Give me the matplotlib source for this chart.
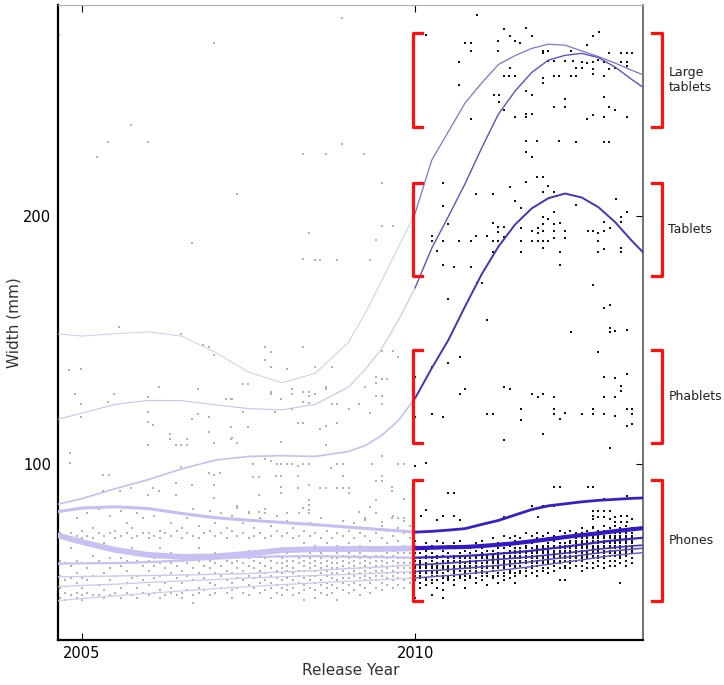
import numpy as np
import matplotlib.pyplot as plt

# --- data (year, width in mm) ---

# pre-2010 dense band, one column per month
pre_cols = [2004.67, 2004.75, 2004.83, 2004.92, 2005.00, 2005.08, 2005.17, 2005.25, 2005.33, 2005.42,
            2005.50, 2005.58, 2005.67, 2005.75, 2005.83, 2005.92, 2006.00, 2006.08, 2006.17, 2006.25,
            2006.33, 2006.42, 2006.50, 2006.58, 2006.67, 2006.75, 2006.83, 2006.92, 2007.00, 2007.08,
            2007.17, 2007.25, 2007.33, 2007.42, 2007.50, 2007.58, 2007.67, 2007.75, 2007.83, 2007.92,
            2008.00, 2008.08, 2008.17, 2008.25, 2008.33, 2008.42, 2008.50, 2008.58, 2008.67, 2008.75,
            2008.83, 2008.92, 2009.00, 2009.08, 2009.17, 2009.25, 2009.33, 2009.42, 2009.50, 2009.58,
            2009.67, 2009.75, 2009.83, 2009.92]
pre_vals = [
    [72, 61, 55, 50, 46], [81, 71, 60, 53, 48, 45], [72, 66, 59, 54, 47], [78, 71, 61, 56, 52, 48, 46],
    [73, 70, 60, 54, 50, 47, 45], [80, 71, 58, 53, 48], [74, 70, 63, 60, 55, 47], [82, 72, 61, 51, 47],
    [71, 68, 60, 56, 49, 46], [79, 72, 62, 58, 53, 47], [73, 70, 60, 55, 48], [81, 71, 62, 59, 50, 46],
    [76, 72, 61, 57, 52, 48], [74, 70, 66, 60, 54, 47], [80, 71, 61, 55, 50, 46], [78, 72, 63, 59, 53, 48],
    [82, 72, 70, 61, 57, 51, 47], [79, 71, 62, 59, 54, 48], [73, 70, 66, 60, 55, 49, 46], [81, 72, 61, 58, 52, 47],
    [76, 71, 64, 60, 56, 50, 48], [80, 73, 62, 59, 54, 47], [74, 70, 61, 57, 52, 48, 46], [78, 72, 63, 60, 55, 49],
    [82, 71, 62, 58, 53, 47, 44], [75, 70, 66, 61, 56, 50, 48], [79, 72, 63, 59, 54, 49], [81, 73, 61, 58, 52, 47],
    [76, 71, 64, 60, 56, 51, 48], [80, 72, 62, 59, 55, 50], [74, 70, 63, 61, 57, 53, 48], [79, 73, 62, 60, 56, 52, 49, 46],
    [83, 71, 64, 61, 58, 54, 50], [76, 72, 63, 60, 57, 53, 48], [80, 70, 65, 62, 59, 55, 51, 47], [74, 71, 64, 61, 58, 54, 50],
    [78, 72, 63, 60, 57, 55, 52, 48], [82, 70, 65, 62, 59, 56, 53, 49], [75, 71, 64, 61, 58, 55, 52, 50, 46],
    [79, 73, 63, 60, 57, 54, 51, 48], [71, 66, 62, 60, 58, 56, 53, 50, 47], [77, 72, 64, 61, 59, 57, 54, 51, 49],
    [74, 70, 63, 61, 58, 56, 53, 50, 47], [80, 71, 65, 62, 60, 57, 55, 52, 48], [73, 68, 63, 61, 59, 57, 54, 51, 49, 45],
    [76, 71, 64, 62, 60, 58, 55, 53, 50], [72, 67, 63, 61, 59, 57, 55, 52, 49, 46], [78, 70, 64, 62, 60, 58, 56, 53, 51, 48],
    [73, 68, 63, 61, 59, 57, 55, 52, 50, 47], [75, 70, 65, 62, 60, 58, 56, 54, 51, 48], [72, 67, 64, 62, 60, 58, 56, 53, 50, 45],
    [77, 71, 65, 63, 61, 59, 57, 54, 52, 49], [73, 68, 64, 62, 60, 58, 56, 54, 51, 48], [76, 70, 65, 63, 61, 59, 57, 55, 52, 49],
    [72, 67, 64, 62, 60, 58, 56, 54, 51, 47], [78, 71, 66, 63, 61, 59, 57, 55, 53, 50], [74, 69, 65, 62, 60, 58, 56, 54, 52, 48],
    [80, 72, 66, 63, 61, 59, 57, 55, 53, 50], [75, 70, 65, 63, 61, 59, 57, 55, 52, 49], [73, 68, 66, 64, 62, 60, 58, 56, 54, 51],
    [79, 71, 65, 63, 61, 59, 57, 55, 53, 50], [74, 69, 66, 64, 62, 60, 58, 56, 54, 51], [77, 72, 67, 64, 62, 60, 58, 56, 53, 50],
    [75, 70, 66, 64, 62, 60, 58, 56, 54, 52]]

# pre-2010 scattered devices above the band
pre_sparse = [
    (2004.65, 273), (2005.74, 236.7), (2005.39, 229.8), (2005.99, 229.8), (2005.23, 223.8), (2006.98, 269.8),
    (2007.33, 208.9), (2006.65, 189.1), (2008.9, 279.8), (2008.9, 229), (2008.32, 225), (2008.66, 225),
    (2009.23, 225), (2009.5, 213.3), (2009.5, 196), (2009.67, 196), (2008.41, 193), (2009.41, 190.3),
    (2008.32, 182.7), (2008.5, 182), (2008.57, 182), (2008.83, 182), (2009.32, 182),
    (2005.56, 155.2), (2006.49, 152.4), (2006.82, 148), (2006.9, 147.2), (2006.98, 144), (2004.8, 138), (2004.98, 138.3),
    (2004.9, 128), (2005.48, 128), (2006.16, 131), (2006.74, 130), (2004.98, 124), (2005.39, 125), (2005.99, 127),
    (2007.16, 126), (2007.24, 126), (2004.98, 119), (2005.99, 121), (2005.99, 117), (2006.07, 115.7), (2005.99, 107.7),
    (2006.65, 118.1), (2006.74, 120.2), (2006.9, 119), (2006.9, 113), (2007.24, 115), (2007.24, 110), (2006.98, 108.5),
    (2006.32, 112), (2006.32, 110), (2006.41, 107.7), (2006.49, 107.7), (2006.58, 107.7), (2006.58, 110),
    (2007.75, 147.2), (2007.83, 145.2), (2008.32, 147.2), (2007.75, 142), (2007.83, 139), (2008.08, 138.3),
    (2008.5, 139), (2008.75, 139), (2009.5, 145.6), (2009.67, 145.6), (2009.74, 143), (2007.41, 132.3), (2007.49, 132.3),
    (2007.83, 129), (2007.83, 128.2), (2008.15, 130.2), (2008.15, 128.2), (2008.32, 129), (2008.41, 129),
    (2008.41, 127.4), (2008.5, 128.2), (2008.66, 131), (2008.66, 130.2), (2007.99, 126.2), (2008.32, 125), (2008.41, 124.6),
    (2009.25, 131), (2009.41, 135), (2009.41, 132.7), (2009.5, 134.3), (2009.58, 134.3), (2009.41, 127.4), (2009.5, 127.4),
    (2008.75, 124.2), (2008.83, 124.2), (2009.0, 122), (2009.16, 124.2), (2009.32, 120.6), (2009.5, 124.2),
    (2007.25, 126), (2007.42, 121), (2007.9, 121), (2008.15, 122), (2008.24, 116.5), (2008.32, 116.5),
    (2008.57, 114), (2008.66, 115.3), (2008.83, 116.5), (2007.49, 115), (2007.99, 109), (2008.66, 107.7),
    (2007.25, 110.5), (2007.33, 108.5), (2004.82, 104.4), (2004.82, 100.4), (2005.32, 95.6), (2005.4, 95.6),
    (2006.49, 98.8), (2006.9, 96.4), (2006.98, 95.6), (2007.07, 96.4), (2006.98, 91.5),
    (2005.32, 89.2), (2005.57, 89.2), (2005.74, 90.2), (2005.99, 87.5), (2006.07, 90.2), (2006.16, 89.2),
    (2006.41, 92.2), (2006.65, 91.5), (2006.41, 87.5), (2006.98, 86.2),
    (2007.57, 100), (2007.75, 102), (2007.83, 101), (2007.92, 100), (2007.99, 100), (2008.07, 100), (2008.15, 100),
    (2008.24, 99), (2008.32, 100), (2008.41, 100), (2008.82, 100), (2008.91, 100), (2008.74, 98.3), (2009.35, 100),
    (2009.5, 103), (2009.75, 100), (2009.83, 100), (2007.57, 94.9), (2007.66, 94.9), (2007.91, 95.2), (2007.99, 95.2),
    (2008.24, 95.2), (2008.91, 95.2), (2009.5, 95.2), (2009.5, 92.9), (2007.99, 90.6), (2007.99, 88.2), (2008.24, 90.2),
    (2008.41, 91.5), (2008.57, 90.2), (2008.66, 90.2), (2008.82, 90.2), (2008.91, 90.2), (2009.0, 90.2), (2009.0, 88.2),
    (2009.66, 90.6), (2009.66, 89.2), (2009.41, 92.9), (2007.66, 87.5), (2008.41, 85.5), (2008.41, 83.5), (2008.41, 81.5),
    (2008.41, 80.1), (2008.32, 82.1), (2008.07, 80.1), (2007.75, 80.1), (2007.66, 80.8), (2007.5, 80.8), (2007.32, 82.1),
    (2009.32, 82.5), (2009.41, 85.5), (2009.16, 80.8), (2009.25, 77.4), (2009.5, 76.7), (2009.66, 78.1), (2009.75, 78.1),
    (2009.83, 85.8), (2009.83, 78.1)]

# post-2010 phones, one column per month
phone_cols = [2010.00, 2010.08, 2010.17, 2010.25, 2010.33, 2010.42, 2010.50, 2010.58, 2010.67, 2010.75,
              2010.83, 2010.92, 2011.00, 2011.08, 2011.17, 2011.25, 2011.33, 2011.42, 2011.50, 2011.58,
              2011.67, 2011.75, 2011.83, 2011.92, 2012.00, 2012.08, 2012.17, 2012.25, 2012.33, 2012.42,
              2012.50, 2012.58, 2012.67, 2012.75, 2012.83, 2012.92, 2013.00, 2013.08, 2013.17, 2013.25]
phone_vals = [
    [69, 67, 64, 62, 61, 59, 58, 57, 56, 55, 53, 46], [66, 64, 62, 61, 60, 59, 58, 57, 56, 55, 54, 52, 50],
    [68, 65, 63, 62, 60, 59, 58, 57, 56, 54, 53, 51], [67, 64, 62, 61, 59, 58, 57, 56, 55, 53, 52, 47],
    [69, 66, 63, 62, 60, 59, 58, 57, 56, 55, 53, 50], [68, 65, 63, 61, 60, 59, 58, 56, 55, 54, 52, 49, 46],
    [67, 64, 62, 61, 60, 59, 58, 57, 55, 54, 53], [68, 66, 63, 62, 61, 59, 58, 57, 56, 55, 53, 51],
    [69, 66, 64, 62, 61, 60, 59, 58, 57, 55, 54], [67, 65, 63, 62, 60, 59, 58, 57, 56, 55, 53, 50],
    [66, 64, 62, 61, 60, 59, 58, 57, 55, 54], [68, 65, 63, 62, 61, 60, 59, 58, 57, 56, 54, 52],
    [69, 66, 64, 63, 62, 60, 59, 58, 57, 56, 55, 53], [67, 65, 63, 62, 61, 60, 59, 58, 56, 55, 51],
    [70, 67, 65, 63, 62, 61, 60, 59, 58, 57, 55, 54], [68, 66, 64, 63, 62, 61, 60, 59, 58, 56, 55, 52],
    [71, 68, 66, 64, 63, 62, 61, 60, 59, 58, 56, 55, 53], [70, 67, 65, 64, 63, 62, 61, 60, 59, 57, 56, 54],
    [71, 69, 66, 65, 64, 63, 62, 61, 60, 59, 58, 56, 55, 52], [70, 68, 66, 65, 64, 63, 62, 61, 60, 59, 57, 56],
    [72, 69, 67, 66, 65, 64, 63, 62, 61, 60, 58, 57, 55], [71, 68, 66, 65, 64, 63, 62, 61, 60, 59, 58, 56],
    [72, 70, 67, 66, 65, 64, 63, 62, 61, 60, 59, 57, 55], [71, 69, 67, 66, 65, 64, 63, 62, 61, 60, 58, 57],
    [72, 70, 68, 67, 66, 65, 64, 63, 62, 61, 60, 58, 56], [71, 69, 67, 66, 65, 64, 63, 62, 61, 60, 59, 57],
    [73, 70, 68, 67, 66, 65, 64, 63, 62, 61, 60, 58, 53], [72, 70, 68, 67, 66, 65, 64, 63, 62, 61, 59, 58, 53],
    [73, 71, 69, 68, 67, 66, 65, 64, 63, 62, 61, 60, 58], [72, 70, 69, 68, 67, 66, 65, 64, 63, 62, 61, 59],
    [74, 72, 70, 69, 68, 67, 66, 65, 64, 63, 62, 61, 59, 57], [73, 71, 70, 69, 68, 67, 66, 65, 64, 63, 62, 60, 58],
    [74, 72, 71, 70, 69, 68, 67, 66, 65, 64, 63, 62, 60, 58], [73, 71, 70, 69, 68, 67, 66, 65, 64, 63, 62, 61, 59],
    [75, 73, 71, 70, 69, 68, 67, 66, 65, 64, 63, 62, 60, 58], [74, 72, 71, 70, 69, 68, 67, 66, 65, 64, 63, 61, 59],
    [75, 73, 72, 71, 70, 69, 68, 67, 66, 65, 64, 63, 61, 59], [74, 72, 71, 70, 69, 68, 67, 66, 65, 64, 63, 62, 60, 52],
    [75, 73, 72, 71, 70, 69, 68, 67, 66, 65, 64, 63, 61, 59], [74, 72, 71, 70, 69, 68, 67, 66, 65, 64, 62, 60]]

# post-2010 larger devices
post_sparse = [
    # large tablets
    (2010.93, 280.8), (2010.17, 273), (2011.34, 275.4), (2011.43, 272.6), (2011.67, 275.8), (2011.76, 272.6),
    (2011.5, 270.6), (2011.58, 269.8), (2010.75, 269.8), (2010.84, 269.8), (2010.84, 266.5), (2011.25, 270.6),
    (2011.25, 266.5), (2010.66, 262), (2010.66, 252.8), (2010.84, 239), (2011.19, 248.8), (2011.26, 248.8),
    (2011.26, 246), (2011.34, 242.7), (2011.5, 240), (2011.67, 241), (2011.67, 240), (2011.76, 241),
    (2011.43, 259.7), (2011.41, 256.5), (2011.34, 256.5), (2011.5, 256.5), (2011.67, 250.4), (2011.76, 248.8),
    (2011.92, 266.5), (2012.0, 266.5), (2011.92, 265.7), (2011.92, 255.6), (2011.92, 253.6),
    (2012.0, 262.5), (2012.09, 262.5), (2012.25, 262.5), (2012.37, 262.5), (2012.09, 256.5), (2012.16, 256.5),
    (2012.34, 256.5), (2012.42, 256.5), (2012.25, 247), (2012.09, 244), (2012.25, 244), (2012.34, 266.5),
    (2012.58, 269), (2012.67, 272.6), (2012.76, 274), (2012.5, 262), (2012.58, 261.7), (2012.67, 262),
    (2012.75, 263), (2012.84, 262), (2012.42, 259.7), (2012.5, 259.7), (2012.67, 259), (2012.67, 257),
    (2012.84, 256.5), (2012.91, 259), (2013.0, 259.7), (2013.09, 262), (2013.18, 262), (2013.18, 260.5),
    (2013.26, 265.7), (2013.18, 265.7), (2013.09, 265.7), (2012.91, 265.7), (2012.84, 248), (2012.91, 244),
    (2013.0, 242.7), (2013.18, 240), (2012.67, 240.7), (2012.58, 239), (2012.84, 240),
    (2011.67, 230.2), (2011.83, 230.2), (2012.16, 230.2), (2012.42, 229.8), (2012.84, 229.8), (2012.91, 229.8),
    (2011.67, 225.8), (2011.76, 223.8),
    # tablets
    (2010.42, 213.4), (2010.42, 204), (2010.5, 196.8), (2010.25, 192), (2010.25, 190), (2010.42, 190), (2010.33, 186),
    (2010.66, 190), (2010.84, 190), (2010.92, 192), (2011.08, 192), (2010.92, 208.9), (2011.17, 208.9),
    (2010.42, 180), (2010.58, 179.4), (2010.84, 179.4), (2010.93, 173), (2011.0, 173), (2010.5, 166.5), (2011.08, 158),
    (2011.17, 197.2), (2011.25, 195.6), (2011.25, 193.5), (2011.33, 195.6), (2011.33, 191.5), (2011.17, 190),
    (2011.25, 190), (2011.17, 185.5), (2011.42, 211.8), (2011.5, 205.8), (2011.59, 203.2), (2011.67, 213.8),
    (2011.83, 215.8), (2011.92, 215.8), (2012.0, 212.2), (2011.92, 209.8), (2012.09, 209.8),
    (2011.59, 195), (2011.59, 190), (2011.59, 185.6), (2011.75, 193.7), (2011.75, 190), (2011.84, 195),
    (2011.84, 193), (2011.92, 193.7), (2011.92, 190), (2011.92, 187), (2012.0, 190), (2012.09, 201.7),
    (2012.09, 193.7), (2012.09, 191), (2012.17, 197), (2012.17, 185.6), (2012.25, 193.7), (2012.25, 191),
    (2011.84, 190), (2011.92, 199.7), (2011.92, 196.8), (2012.0, 198.7), (2012.09, 196.8), (2012.17, 180),
    (2012.42, 204.4), (2012.59, 193.7), (2012.67, 193.7), (2012.75, 193), (2012.75, 190), (2012.84, 193.7),
    (2012.84, 197.7), (2012.92, 195), (2013.01, 206.9), (2013.09, 199.7), (2013.09, 197.7), (2013.18, 201.7),
    (2012.75, 185.6), (2012.84, 186.6), (2013.09, 187), (2013.09, 185.6), (2012.67, 172), (2012.84, 163),
    (2012.92, 164), (2012.92, 154.7), (2012.92, 153), (2013.0, 153.6), (2013.18, 154), (2012.34, 153),
    # phablets
    (2010.0, 135.2), (2010.25, 139), (2010.5, 140.8), (2010.67, 143), (2010.67, 128.2), (2010.75, 130),
    (2010.0, 119), (2010.25, 120), (2010.42, 119), (2011.08, 120), (2011.17, 120), (2011.34, 131), (2011.42, 130),
    (2011.34, 109.7), (2011.59, 122), (2011.59, 117.5), (2011.75, 128.2), (2011.84, 127), (2011.92, 128.2),
    (2011.92, 112), (2012.09, 127), (2012.09, 122), (2012.09, 120), (2012.17, 118), (2012.25, 120.7),
    (2012.5, 120), (2012.67, 122), (2012.67, 120), (2012.75, 145), (2012.84, 135), (2012.84, 127), (2012.84, 120),
    (2012.93, 106.3), (2013.0, 134.6), (2013.0, 127), (2013.0, 119.4), (2013.09, 131.6), (2013.09, 129.2),
    (2013.18, 136.3), (2013.18, 122), (2013.18, 115.3), (2013.26, 122), (2013.26, 120.3), (2013.26, 116),
    (2010.0, 99.3), (2010.17, 100.3),
    # big phones
    (2010.5, 88.4), (2010.59, 88.4), (2010.17, 81.5), (2010.09, 79), (2010.42, 79), (2010.59, 79), (2010.33, 77.4),
    (2010.67, 77.4), (2011.34, 78.6), (2011.76, 83), (2011.92, 83), (2012.0, 83), (2012.09, 83), (2011.84, 78.6),
    (2012.09, 90.6), (2012.17, 90.6), (2012.59, 90.6), (2012.67, 90.6), (2012.84, 85.8), (2013.18, 87.1),
    (2012.67, 81.2), (2012.75, 81.2), (2012.84, 81.2), (2012.92, 81.2), (2012.67, 79), (2012.67, 77.7),
    (2012.67, 74.7), (2012.75, 78.5), (2012.84, 78.5), (2012.92, 77.7), (2013.0, 78.5), (2013.09, 79),
    (2013.18, 79), (2013.0, 76.7), (2013.09, 76.7), (2013.18, 76.7), (2013.25, 77.7)]

# smoothed trend lines, values at the curve_years
curve_years = [2004.6, 2005.0, 2005.5, 2006.0, 2006.5, 2007.0, 2007.5, 2008.0, 2008.5, 2009.0,
               2009.25, 2009.5, 2009.75, 2010.0, 2010.25, 2010.5, 2010.75, 2011.0, 2011.25, 2011.5,
               2011.75, 2012.0, 2012.25, 2012.5, 2012.75, 2013.0, 2013.25, 2013.45]
trend_large1 = [152.5, 151.5, 152.5, 153.2, 151.5, 145, 137, 132.7, 136.5, 149,
                160.8, 174, 187.5, 201, 222.5, 234, 245.5, 253.6, 261, 264.6,
                267.5, 269.2, 268.8, 266.5, 264.2, 261.6, 258.7, 256.5]
trend_large2 = [117.7, 120.5, 124, 125.6, 125.5, 123.8, 122.3, 121.8, 124, 131,
                138, 146.6, 158, 171, 187, 199.8, 213, 227.4, 241, 250.3,
                257.8, 262.8, 264.7, 265.5, 263.8, 260, 255, 251.3]
trend_tablet = [83.5, 86, 90, 93.7, 98, 101.5, 103, 103.3, 103, 105,
                107.4, 111.5, 117.5, 126.5, 138.6, 150, 163.5, 176.5, 187.6, 196.5,
                203, 207.1, 209, 207.4, 203.5, 197.5, 190, 184.5]
trend_phab = [80.6, 82.2, 82.7, 82, 80, 78.3, 77.3, 76.4, 75.5, 74.5,
              74, 73.5, 73, 72.5, 72.8, 73.3, 73.9, 75.6, 77.2, 79.4,
              81.6, 83.1, 83.9, 84.7, 85.3, 85.7, 86.1, 86.3]
trend_phone = [71.5, 68.5, 65.3, 63.3, 62.5, 62.7, 63.8, 65.2, 65.6, 65.7,
               65.7, 65.7, 65.8, 66, 66.2, 66.4, 66.5, 66.9, 67.4, 68,
               68.8, 69.6, 70.5, 71.3, 72, 72.9, 73.6, 74.2]
trend_f = [59.8, 59.9, 60, 60.4, 61, 61.8, 62.4, 62.7, 62.8, 62.6,
           62.5, 62.4, 62.3, 62.2, 62.4, 62.6, 62.9, 63.3, 63.8, 64.3,
           65, 65.8, 66.6, 67.5, 68.4, 69.2, 69.8, 70.3]
trend_g = [54.4, 54.6, 54.8, 55, 55.2, 55.5, 55.8, 56.4, 57, 57.8,
           58.1, 58.5, 58.9, 59.3, 59.6, 60, 60.5, 61, 61.5, 62,
           62.6, 63.3, 64, 64.8, 65.6, 66.3, 66.9, 67.3]
trend_h = [50.4, 51, 51.5, 52.2, 52.8, 53.4, 54, 54.5, 55, 55.5,
           55.7, 56, 56.3, 56.6, 57, 57.4, 57.9, 58.5, 59.1, 59.8,
           60.6, 61.5, 62.3, 63.2, 64.1, 65, 65.6, 66.1]
trend_i = [44.8, 45.7, 46.8, 47.8, 48.8, 49.7, 50.5, 51.3, 52, 52.7,
           53, 53.3, 53.6, 54, 54.5, 55, 55.6, 56.3, 57, 57.8,
           58.6, 59.5, 60.4, 61.3, 62.3, 63.2, 63.8, 64.3]

# category brackets (low, high) in mm
bracket_names = ["Large\ntablets", "Tablets", "Phablets", "Phones"]
bracket_lo = [236.0, 175.8, 108.3, 44.9]
bracket_hi = [273.7, 213.4, 146.0, 93.5]


def flatten(cols, vals):
    xs, ys = [], []
    for c, v in zip(cols, vals):
        xs += [c] * len(v)
        ys += v
    return np.array(xs), np.array(ys)


fig = plt.figure(figsize=(7.24, 6.85), dpi=100)
ax = fig.add_axes([58 / 724, 45 / 685, 585 / 724, 635 / 685])

# points
px, py = flatten(pre_cols, pre_vals)
sx, sy = np.array(pre_sparse).T
ax.scatter(np.r_[px, sx], np.r_[py, sy], s=2.6, marker='s', c='#b2b2b2', linewidths=0, zorder=2)

qx, qy = flatten(phone_cols, phone_vals)
tx, ty = np.array(post_sparse).T
ax.scatter(np.r_[qx, tx], np.r_[qy, ty], s=3.8, marker='s', c='#111111', linewidths=0, zorder=2)

# trend lines: light before 2010, dark after
yrs = np.array(curve_years)
pre = yrs <= 2010
post = yrs >= 2010
styles = [  # values, lw before, lw after, colour before, colour after
    (trend_large1, 0.7, 0.9, '#cfcaf0', '#7f74cf'),
    (trend_large2, 0.8, 1.0, '#c9c3ef', '#5f50c4'),
    (trend_tablet, 1.2, 1.4, '#c6bff0', '#4632b8'),
    (trend_phab, 2.2, 2.0, '#c6bef3', '#3a20c2'),
    (trend_phone, 4.2, 3.0, '#c8c0f3', '#3418c6'),
    (trend_f, 1.6, 1.6, '#c8c0f3', '#3a24c2'),
    (trend_g, 1.0, 1.2, '#cdc6f3', '#4a38c4'),
    (trend_h, 0.9, 1.1, '#cdc6f3', '#5646c6'),
    (trend_i, 0.9, 1.0, '#d0caf3', '#6456c8'),
]
for vals, lw0, lw1, c0, c1 in styles:
    v = np.array(vals)
    ax.plot(yrs[pre], v[pre], color=c0, lw=lw0, zorder=3)
    ax.plot(yrs[post], v[post], color=c1, lw=lw1, zorder=4)

# red brackets left of 2010 and right of the axes
for name, lo, hi in zip(bracket_names, bracket_lo, bracket_hi):
    ax.plot([2010.10, 2009.965, 2009.965, 2010.10], [hi, hi, lo, lo],
            color='#ff1010', lw=2.3, clip_on=False, zorder=5)
    ax.plot([2013.555, 2013.70, 2013.70, 2013.555], [hi, hi, lo, lo],
            color='#ff1010', lw=2.3, clip_on=False, zorder=5)
    ax.text(2013.80, (lo + hi) / 2, name, ha='left', va='center', fontsize=9,
            color='#222222', clip_on=False)

ax.set_xlim(2004.64, 2013.42)
ax.set_ylim(29, 285)
ax.set_xticks([2005, 2010])
ax.set_yticks([100, 200])
ax.tick_params(axis='x', direction='in', top=True, length=5, labelsize=10.5, pad=4)
ax.tick_params(axis='y', direction='in', left=False, right=True, length=5, labelsize=10.5, pad=5)
ax.set_xlabel("Release Year", fontsize=11, color='#333333', labelpad=2)
ax.set_ylabel("Width (mm)", fontsize=11, color='#333333', labelpad=1)

ax.spines['left'].set_linewidth(1.6)
ax.spines['bottom'].set_linewidth(1.6)
ax.spines['top'].set_color('#b0b0b0')
ax.spines['right'].set_color('#666666')
ax.spines['right'].set_linewidth(1.3)

fig.savefig("out.png", dpi=100)
